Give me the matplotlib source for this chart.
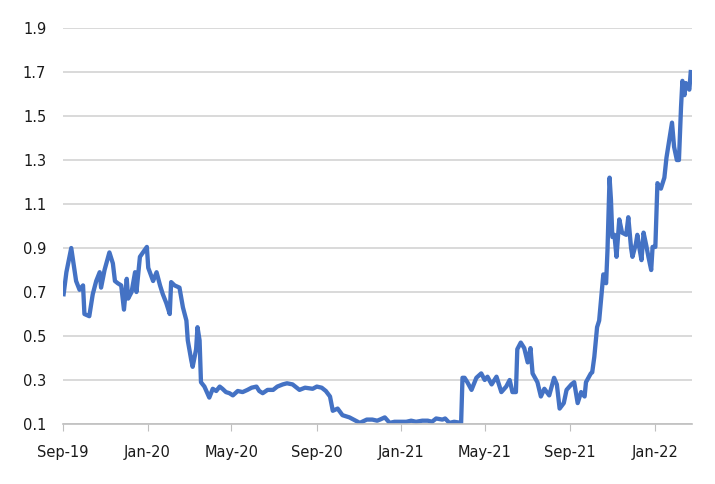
import matplotlib
matplotlib.use("Agg")
import matplotlib.pyplot as plt
import matplotlib.dates as mdates
import numpy as np
import pandas as pd

# values
dates = [
    "2019-09-02", "2019-09-06", "2019-09-13", "2019-09-20", "2019-09-25", "2019-09-30",
    "2019-10-02", "2019-10-09", "2019-10-14", "2019-10-19", "2019-10-24", "2019-10-26",
    "2019-10-31", "2019-11-07", "2019-11-12", "2019-11-15", "2019-11-19", "2019-11-24",
    "2019-11-28", "2019-12-02", "2019-12-04", "2019-12-09", "2019-12-14", "2019-12-16",
    "2019-12-21", "2019-12-31", "2020-01-02", "2020-01-09", "2020-01-14", "2020-01-19",
    "2020-01-23", "2020-01-28", "2020-02-02", "2020-02-04", "2020-02-09", "2020-02-16",
    "2020-02-21", "2020-02-26", "2020-02-28", "2020-03-04", "2020-03-06", "2020-03-11",
    "2020-03-13", "2020-03-16", "2020-03-18", "2020-03-23", "2020-03-30", "2020-04-04",
    "2020-04-09", "2020-04-14", "2020-04-18", "2020-04-23", "2020-04-28", "2020-05-03",
    "2020-05-10", "2020-05-17", "2020-05-24", "2020-05-30", "2020-06-06", "2020-06-10",
    "2020-06-15", "2020-06-22", "2020-06-30", "2020-07-06", "2020-07-14", "2020-07-20",
    "2020-07-28", "2020-08-01", "2020-08-07", "2020-08-15", "2020-08-26", "2020-09-01",
    "2020-09-08", "2020-09-14", "2020-09-20", "2020-09-24", "2020-10-01", "2020-10-08",
    "2020-10-18", "2020-10-30", "2020-11-02", "2020-11-12", "2020-11-20", "2020-11-27",
    "2020-12-01", "2020-12-08", "2020-12-15", "2020-12-22", "2021-01-08", "2021-01-15",
    "2021-01-22", "2021-01-31", "2021-02-08", "2021-02-14", "2021-02-20", "2021-03-01",
    "2021-03-05", "2021-03-11", "2021-03-18", "2021-03-28", "2021-03-30",
    "2021-04-02", "2021-04-06", "2021-04-12", "2021-04-19", "2021-04-26", "2021-05-01",
    "2021-05-05", "2021-05-11", "2021-05-18", "2021-05-25", "2021-06-01", "2021-06-06",
    "2021-06-10", "2021-06-15", "2021-06-17", "2021-06-22", "2021-06-27", "2021-07-02",
    "2021-07-06", "2021-07-09", "2021-07-16", "2021-07-21", "2021-07-26", "2021-08-02",
    "2021-08-09", "2021-08-13", "2021-08-17", "2021-08-23", "2021-08-27", "2021-09-03",
    "2021-09-07", "2021-09-12", "2021-09-17", "2021-09-22", "2021-09-24", "2021-10-01",
    "2021-10-03", "2021-10-06", "2021-10-10", "2021-10-13", "2021-10-17", "2021-10-19",
    "2021-10-23", "2021-10-25", "2021-10-28", "2021-10-30", "2021-11-01", "2021-11-04",
    "2021-11-07", "2021-11-11", "2021-11-15", "2021-11-21", "2021-11-24", "2021-11-28",
    "2021-11-30", "2021-12-05", "2021-12-07", "2021-12-10", "2021-12-13", "2021-12-16",
    "2021-12-20", "2021-12-23", "2021-12-27", "2021-12-29", "2022-01-02", "2022-01-05",
    "2022-01-10", "2022-01-15", "2022-01-18", "2022-01-22", "2022-01-26", "2022-01-29",
    "2022-02-02", "2022-02-05", "2022-02-08", "2022-02-10", "2022-02-13", "2022-02-15",
    "2022-02-20", "2022-02-22",
]
values = [
    0.69, 0.79, 0.90, 0.75, 0.71, 0.73,
    0.60, 0.59, 0.69, 0.75, 0.79, 0.72,
    0.80, 0.88, 0.83, 0.75, 0.74, 0.73,
    0.62, 0.76, 0.67, 0.70, 0.79, 0.70,
    0.86, 0.905, 0.81, 0.75, 0.79, 0.73,
    0.69, 0.65, 0.60, 0.745, 0.73, 0.72,
    0.63, 0.57, 0.48, 0.39, 0.36, 0.44,
    0.54, 0.48, 0.29, 0.27, 0.22, 0.26,
    0.25, 0.27, 0.26, 0.245, 0.24, 0.23,
    0.25, 0.245, 0.255, 0.265, 0.27, 0.25,
    0.24, 0.255, 0.255, 0.27, 0.28, 0.285,
    0.28, 0.27, 0.255, 0.265, 0.26, 0.27,
    0.265, 0.25, 0.225, 0.16, 0.17, 0.14,
    0.13, 0.11, 0.105, 0.12, 0.12, 0.115,
    0.12, 0.13, 0.105, 0.11, 0.11, 0.115,
    0.11, 0.115, 0.115, 0.11, 0.125, 0.12,
    0.125, 0.105, 0.11, 0.105, 0.31,
    0.31, 0.29, 0.255, 0.31, 0.33, 0.30,
    0.315, 0.28, 0.315, 0.245, 0.27, 0.30,
    0.245, 0.245, 0.44, 0.47, 0.445, 0.38,
    0.445, 0.33, 0.29, 0.225, 0.26, 0.23,
    0.31, 0.28, 0.17, 0.195, 0.255, 0.28,
    0.29, 0.195, 0.245, 0.225, 0.29, 0.33,
    0.335, 0.405, 0.54, 0.57, 0.71, 0.78,
    0.74, 0.89, 1.22, 1.12, 0.95, 0.96,
    0.86, 1.03, 0.97, 0.96, 1.04, 0.90,
    0.86, 0.92, 0.96, 0.90, 0.845, 0.97,
    0.91, 0.86, 0.80, 0.905, 0.905, 1.195,
    1.17, 1.22, 1.31, 1.39, 1.47, 1.36,
    1.30, 1.30, 1.54, 1.66, 1.595, 1.65,
    1.62, 1.70,
]
yticks = [0.1, 0.3, 0.5, 0.7, 0.9, 1.1, 1.3, 1.5, 1.7, 1.9]

df = pd.DataFrame({"date": pd.to_datetime(dates), "value": values}).sort_values("date")

fig = plt.figure(figsize=(7.15, 4.84), dpi=100)
ax = fig.add_axes([0.088, 0.124, 0.88, 0.818])

ax.plot(df["date"], df["value"], color="#4472C4", lw=3.1, solid_joinstyle="round")

ax.set_ylim(0.1, 1.9)
ax.set_yticks(yticks)
ax.set_yticklabels([f"{v:.1f}" for v in yticks])
ax.set_xlim(pd.Timestamp("2019-09-01"), pd.Timestamp("2022-02-24"))
ax.xaxis.set_major_locator(mdates.MonthLocator(bymonth=(1, 5, 9)))
ax.xaxis.set_major_formatter(mdates.DateFormatter("%b-%y"))

ax.grid(axis="y", color="#d9d9d9", lw=1.4)
ax.set_axisbelow(True)
for s in ["top", "right", "left"]:
    ax.spines[s].set_visible(False)
ax.spines["bottom"].set_color("#bfbfbf")
ax.spines["bottom"].set_linewidth(1.2)
ax.tick_params(axis="y", length=0, pad=12, labelsize=10.5, labelcolor="#1a1a1a")
ax.tick_params(axis="x", length=5, color="#bfbfbf", pad=10, labelsize=10.5, labelcolor="#1a1a1a")

plt.savefig("out.png", dpi=100)
